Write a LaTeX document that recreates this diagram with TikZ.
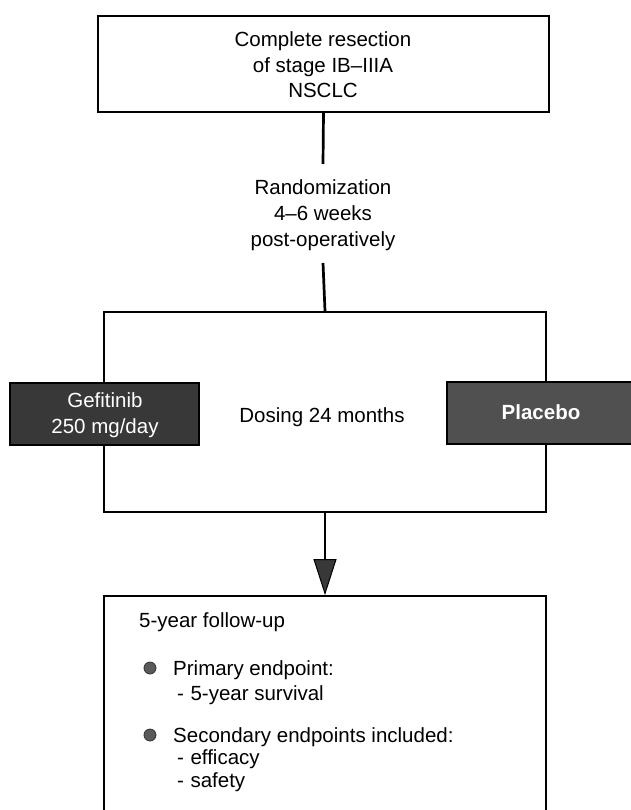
\documentclass[tikz,border=0pt]{standalone}
\usepackage{fontspec}
\setmainfont{Liberation Sans}
\usetikzlibrary{arrows.meta}
\definecolor{gefcol}{HTML}{383838}
\definecolor{placol}{HTML}{505050}
\definecolor{bulcol}{HTML}{5A5A5A}
\begin{document}
\begin{tikzpicture}[x=1pt,y=-1pt,
  boxstyle/.style={draw=black,line width=1.8pt,rectangle,inner sep=0pt},
  txt/.style={font=\fontsize{20.5}{25.5}\selectfont,inner sep=0pt,anchor=base},
  ltxt/.style={font=\fontsize{20.5}{25.5}\selectfont,inner sep=0pt,anchor=base west},
  wtxt/.style={font=\fontsize{20.5}{25.5}\selectfont,inner sep=0pt,anchor=base,text=white},
  conn/.style={line width=2.7pt,draw=black},
  bulletdot/.style={circle,fill=bulcol,draw=black!80,line width=0.8pt,minimum size=12pt,inner sep=0pt}]
\useasboundingbox (0,0) rectangle (630,810);
% top box
\node[boxstyle,minimum width=451pt,minimum height=96pt] (top) at (323.5,64) {};
\node[txt] (t1) at (323,47) {Complete resection};
\node[txt] (t2) at (323,73) {of stage IB--IIIA};
\node[txt] (t3) at (323,98) {NSCLC};
% randomization text
\coordinate (c1) at (323,164);
\node[txt] (r1) at (323,195) {Randomization};
\node[txt] (r2) at (323,221) {4--6 weeks};
\node[txt] (r3) at (323,247) {post-operatively};
\coordinate (c2) at (323,263);
% middle box
\node[boxstyle,minimum width=442pt,minimum height=200pt] (mid) at (325,412) {};
\node[txt] (dose) at (322,422) {Dosing 24 months};
% arms
\node[boxstyle,fill=gefcol,minimum width=189pt,minimum height=62pt] (gef) at (104.5,414) {};
\node[wtxt] (g1) at (105,407) {Gefitinib};
\node[wtxt] (g2) at (105,433) {250 mg/day};
\node[boxstyle,fill=placol,minimum width=189pt,minimum height=62pt] (pla) at (541.5,413) {};
\node[wtxt,font=\fontsize{20.5}{25.5}\selectfont\bfseries] (p1) at (541,419) {Placebo};
% bottom box
\node[boxstyle,minimum width=442pt,minimum height=224pt] (bot) at (325,708) {};
\node[ltxt] (f1) at (139,627) {5-year follow-up};
\node[bulletdot] (b1) at (150,668) {};
\node[ltxt] (f2) at (173,675) {Primary endpoint:};
\node[ltxt] (f3) at (177,700) {-\hspace{6.5pt}5-year survival};
\node[bulletdot] (b2) at (150,735) {};
\node[ltxt] (f4) at (173,742) {Secondary endpoints included:};
\node[ltxt] (f5) at (177,764) {-\hspace{6.5pt}efficacy};
\node[ltxt] (f6) at (177,787) {-\hspace{6.5pt}safety};
% connectors
\draw[conn] (top.south) -- (c1);
\draw[conn] (c2) -- (mid.north);
\draw[conn,-{Triangle[length=36pt,width=23pt,fill=gefcol,line width=1pt]}] (mid.south) -- (bot.north);
\end{tikzpicture}
\end{document}
